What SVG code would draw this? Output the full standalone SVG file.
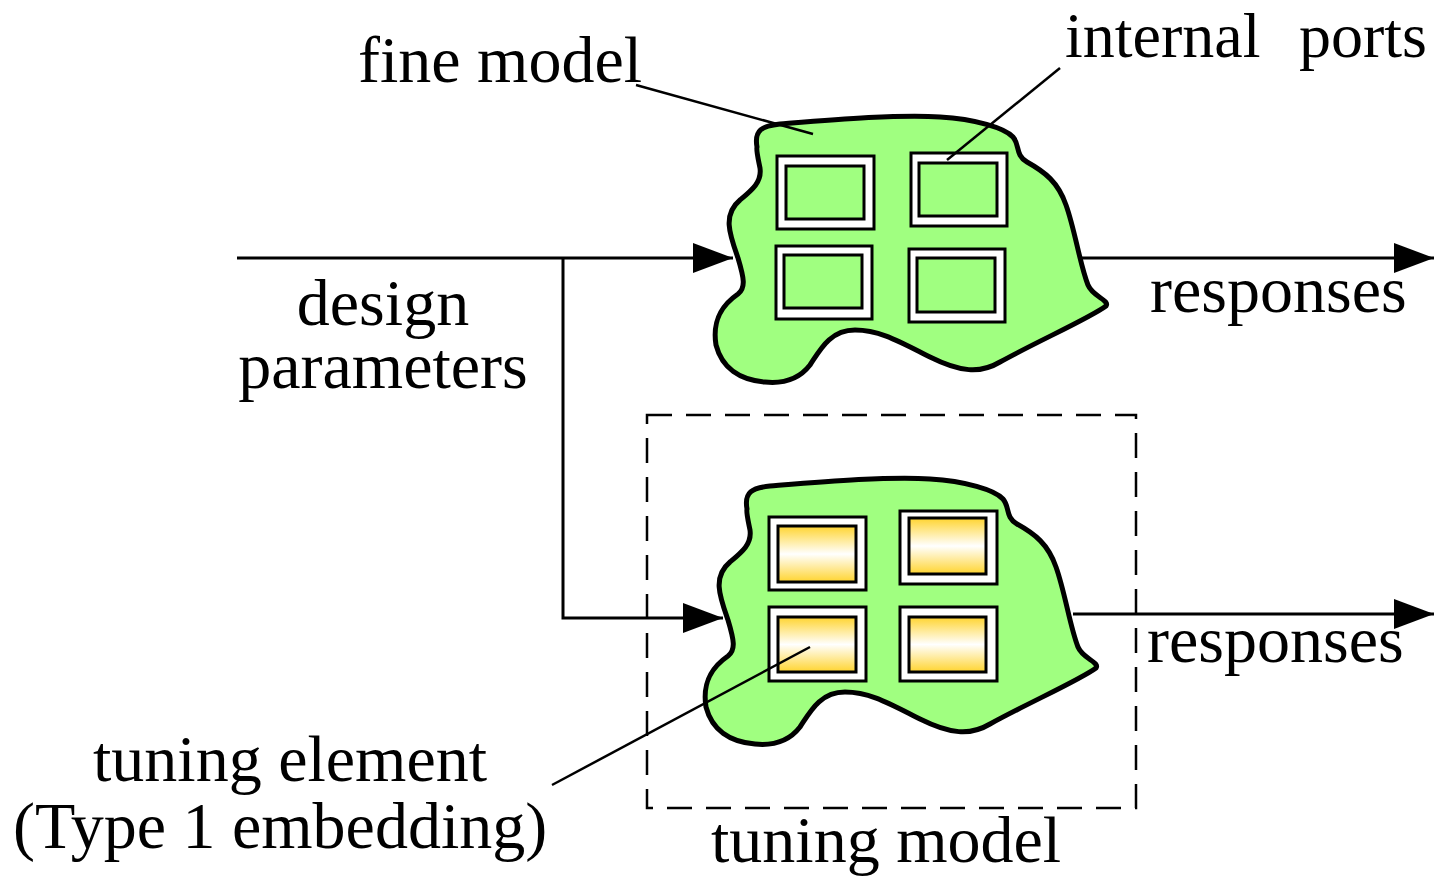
<svg xmlns="http://www.w3.org/2000/svg" width="1435" height="877" viewBox="0 0 1435 877">
  <style>
    .lbl { font-family: "Liberation Serif", "Times New Roman", serif; font-size: 66px; fill: #000; }
    .top { font-size: 64px; }
    .blob { fill: #A0FF80; stroke: #000; stroke-width: 5; stroke-linejoin: round; }
    .frame { fill: #fff; stroke: #000; stroke-width: 3; }
    .port { fill: #A0FF80; stroke: #000; stroke-width: 3; }
    .tune { fill: url(#gold); stroke: #000; stroke-width: 3; }
    .wire { fill: none; stroke: #000; stroke-width: 3; }
    .lead { fill: none; stroke: #000; stroke-width: 2.5; }
    .dash { fill: none; stroke: #000; stroke-width: 2.5; stroke-dasharray: 25 14; }
  </style>
  <defs>
    <linearGradient id="gold" x1="0" y1="0" x2="0" y2="1">
      <stop offset="0" stop-color="#FFD42F"/>
      <stop offset="0.5" stop-color="#FFFFFF"/>
      <stop offset="1" stop-color="#FFD42F"/>
    </linearGradient>
    <path id="blobShape" d="M 757,147 C 754,130 762,126 780,124 C 830,120 900,114 940,117 C 975,119 1005,128 1013,137 C 1020,145 1015,155 1027,162 C 1045,172 1058,182 1066,205 C 1075,230 1080,265 1088,285 C 1093,297 1110,300 1106,306 C 1090,318 1040,340 1000,362 C 980,374 960,372 930,357 C 900,342 880,330 855,330 C 830,330 820,350 810,365 C 800,378 785,384 765,382 C 740,380 722,368 716,345 C 712,320 722,305 738,294 C 746,288 744,278 738,258 C 730,235 722,215 740,200 C 752,190 762,182 760,168 C 758,158 756,150 757,147 Z"/>
    <marker id="arrow" viewBox="0 0 40 30" refX="40" refY="15" markerWidth="40" markerHeight="30" markerUnits="userSpaceOnUse" orient="auto">
      <path d="M 0,0 L 40,15 L 0,30 Z" fill="#000"/>
    </marker>
  </defs>

  <rect x="0" y="0" width="1435" height="877" fill="#fff"/>

  <!-- tuning model boundary -->
  <g id="tuning-model">
    <rect class="dash" x="647" y="415" width="489" height="393"/>
    <text class="lbl" x="711" y="862">tuning model</text>
  </g>

  <!-- fine model with its internal ports -->
  <g id="fine-model">
    <use href="#blobShape" class="blob"/>
    <rect class="frame" x="777" y="156" width="97" height="73"/>
    <rect class="port" x="786" y="166" width="78" height="53"/>
    <rect class="frame" x="911" y="153" width="96" height="73"/>
    <rect class="port" x="919" y="163" width="78" height="53"/>
    <rect class="frame" x="776" y="246" width="96" height="73"/>
    <rect class="port" x="784" y="255" width="78" height="53"/>
    <rect class="frame" x="909" y="249" width="96" height="73"/>
    <rect class="port" x="917" y="258" width="78" height="54"/>
  </g>

  <!-- tuning model blob with tuning elements -->
  <g id="tuned-model">
    <use href="#blobShape" class="blob" transform="translate(-10,362)"/>
    <rect class="frame" x="769" y="517" width="97" height="73"/>
    <rect class="tune" x="778" y="526" width="78" height="56"/>
    <rect class="frame" x="900" y="511" width="97" height="73"/>
    <rect class="tune" x="909" y="518" width="77" height="56"/>
    <rect class="frame" x="769" y="607" width="97" height="74"/>
    <rect class="tune" x="778" y="617" width="78" height="55"/>
    <rect class="frame" x="900" y="607" width="97" height="74"/>
    <rect class="tune" x="909" y="617" width="77" height="55"/>
  </g>

  <!-- labels -->
  <g id="label-fine-model"><text class="lbl" x="358" y="82">fine model</text></g>
  <g id="label-internal-ports"><text class="lbl top" x="1065" y="57">internal<tspan x="1299">ports</tspan></text></g>
  <g id="label-design-parameters">
    <text class="lbl" x="383" y="325" text-anchor="middle">design</text>
    <text class="lbl" x="383" y="388" text-anchor="middle">parameters</text>
  </g>
  <g id="label-responses-top"><text class="lbl" x="1150" y="312">responses</text></g>
  <g id="label-responses-bottom"><text class="lbl" x="1147" y="662">responses</text></g>
  <g id="label-tuning-element">
    <text class="lbl" x="93" y="781">tuning element</text>
    <text class="lbl" x="13" y="848">(Type 1 embedding)</text>
  </g>

  <!-- connectors -->
  <g id="connectors">
    <path class="wire" d="M 237,258 L 733,258" marker-end="url(#arrow)"/>
    <path class="wire" d="M 563,258 L 563,618 L 723,618" marker-end="url(#arrow)"/>
    <path class="wire" d="M 1080,258 L 1434,258" marker-end="url(#arrow)"/>
    <path class="wire" d="M 1073,614 L 1434,614" marker-end="url(#arrow)"/>
    <path class="lead" d="M 636,85 L 813,134"/>
    <path class="lead" d="M 1060,68 L 947,160"/>
    <path class="lead" d="M 552,785 L 810,647"/>
  </g>
</svg>
